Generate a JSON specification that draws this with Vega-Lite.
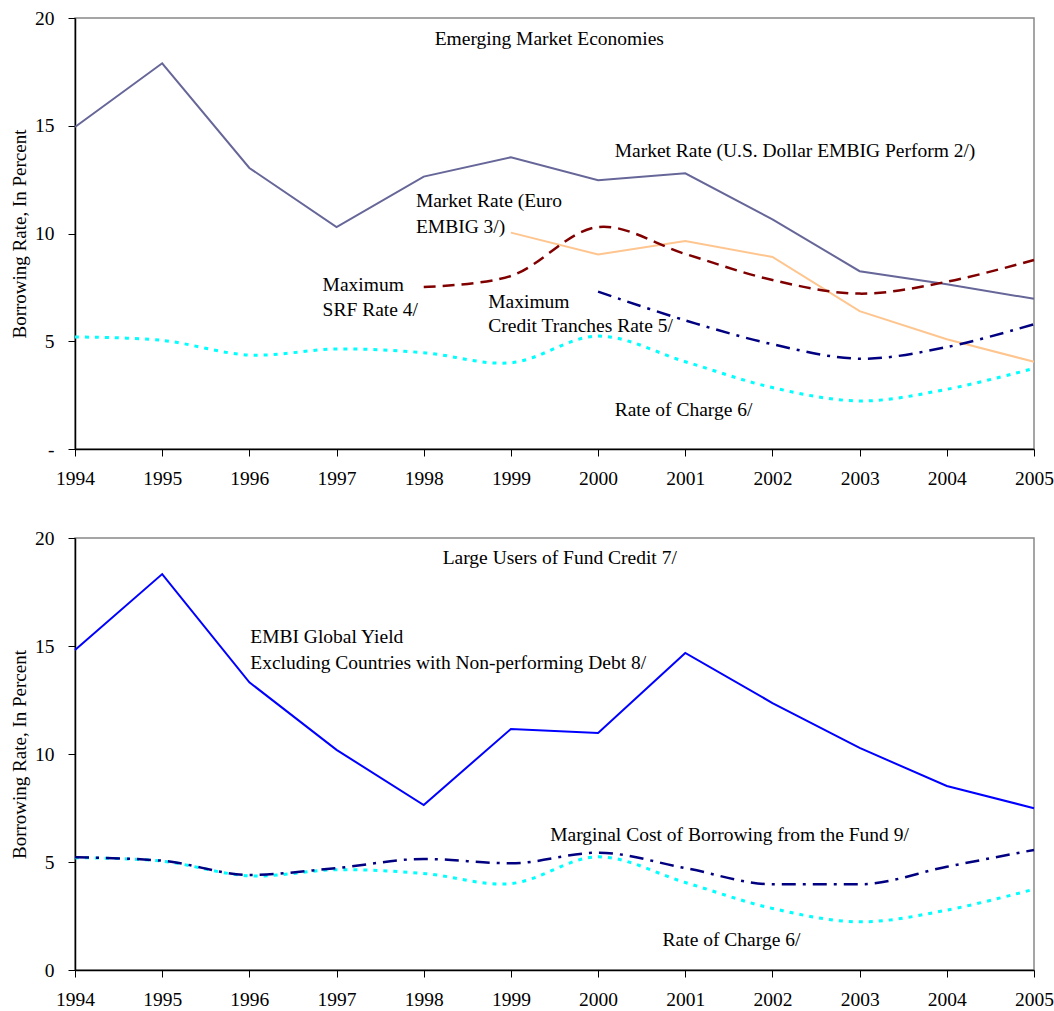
{
  "$schema": "https://vega.github.io/schema/vega-lite/v6.json",
  "padding": {"left": 9, "top": 7, "right": 0, "bottom": 2},
  "background": "white",
  "config": {
    "font": "Liberation Serif",
    "view": {"stroke": "#888888", "strokeWidth": 1.5},
    "axis": {"grid": false, "domainColor": "black", "domainWidth": 1.5, "tickColor": "black", "tickSize": 7, "labelFont": "Liberation Serif", "labelFontSize": 19.5, "labelColor": "black", "titleFont": "Liberation Serif", "titleFontSize": 19, "titleFontWeight": "normal", "titleColor": "black"},
    "text": {"font": "Liberation Serif", "fontSize": 19.5, "color": "black"}
  },
  "spacing": 38,
  "datasets": {
    "top": [
      {"series": "usd", "year": 1994, "value": 14.94}, {"series": "usd", "year": 1995, "value": 17.9}, {"series": "usd", "year": 1996, "value": 13.04}, {"series": "usd", "year": 1997, "value": 10.3}, {"series": "usd", "year": 1998, "value": 12.64}, {"series": "usd", "year": 1999, "value": 13.54}, {"series": "usd", "year": 2000, "value": 12.47}, {"series": "usd", "year": 2001, "value": 12.79}, {"series": "usd", "year": 2002, "value": 10.66}, {"series": "usd", "year": 2003, "value": 8.25}, {"series": "usd", "year": 2004, "value": 7.64}, {"series": "usd", "year": 2005, "value": 6.97},
      {"series": "euro", "year": 1999, "value": 10.04}, {"series": "euro", "year": 2000, "value": 9.03}, {"series": "euro", "year": 2001, "value": 9.65}, {"series": "euro", "year": 2002, "value": 8.91}, {"series": "euro", "year": 2003, "value": 6.4}, {"series": "euro", "year": 2004, "value": 5.09}, {"series": "euro", "year": 2005, "value": 4.05},
      {"series": "srf", "year": 1998, "value": 7.52}, {"series": "srf", "year": 1999, "value": 8.03}, {"series": "srf", "year": 2000, "value": 10.3}, {"series": "srf", "year": 2001, "value": 9.05}, {"series": "srf", "year": 2002, "value": 7.84}, {"series": "srf", "year": 2003, "value": 7.21}, {"series": "srf", "year": 2004, "value": 7.76}, {"series": "srf", "year": 2005, "value": 8.77},
      {"series": "ct", "year": 2000, "value": 7.3}, {"series": "ct", "year": 2001, "value": 5.97}, {"series": "ct", "year": 2002, "value": 4.86}, {"series": "ct", "year": 2003, "value": 4.19}, {"series": "ct", "year": 2004, "value": 4.73}, {"series": "ct", "year": 2005, "value": 5.79},
      {"series": "charge", "year": 1994, "value": 5.2}, {"series": "charge", "year": 1995, "value": 5.04}, {"series": "charge", "year": 1996, "value": 4.36}, {"series": "charge", "year": 1997, "value": 4.64}, {"series": "charge", "year": 1998, "value": 4.47}, {"series": "charge", "year": 1999, "value": 4.0}, {"series": "charge", "year": 2000, "value": 5.24}, {"series": "charge", "year": 2001, "value": 4.05}, {"series": "charge", "year": 2002, "value": 2.85}, {"series": "charge", "year": 2003, "value": 2.23}, {"series": "charge", "year": 2004, "value": 2.77}, {"series": "charge", "year": 2005, "value": 3.74}
    ],
    "bottom": [
      {"series": "embi", "year": 1994, "value": 14.81}, {"series": "embi", "year": 1995, "value": 18.33}, {"series": "embi", "year": 1996, "value": 13.32}, {"series": "embi", "year": 1997, "value": 10.19}, {"series": "embi", "year": 1998, "value": 7.64}, {"series": "embi", "year": 1999, "value": 11.16}, {"series": "embi", "year": 2000, "value": 10.97}, {"series": "embi", "year": 2001, "value": 14.68}, {"series": "embi", "year": 2002, "value": 12.36}, {"series": "embi", "year": 2003, "value": 10.28}, {"series": "embi", "year": 2004, "value": 8.52}, {"series": "embi", "year": 2005, "value": 7.49},
      {"series": "marginal", "year": 1994, "value": 5.22}, {"series": "marginal", "year": 1995, "value": 5.06}, {"series": "marginal", "year": 1996, "value": 4.4}, {"series": "marginal", "year": 1997, "value": 4.72}, {"series": "marginal", "year": 1998, "value": 5.14}, {"series": "marginal", "year": 1999, "value": 4.94}, {"series": "marginal", "year": 2000, "value": 5.43}, {"series": "marginal", "year": 2001, "value": 4.72}, {"series": "marginal", "year": 2002, "value": 3.97}, {"series": "marginal", "year": 2003, "value": 3.97}, {"series": "marginal", "year": 2004, "value": 4.78}, {"series": "marginal", "year": 2005, "value": 5.56},
      {"series": "charge", "year": 1994, "value": 5.2}, {"series": "charge", "year": 1995, "value": 5.04}, {"series": "charge", "year": 1996, "value": 4.36}, {"series": "charge", "year": 1997, "value": 4.64}, {"series": "charge", "year": 1998, "value": 4.47}, {"series": "charge", "year": 1999, "value": 4.0}, {"series": "charge", "year": 2000, "value": 5.24}, {"series": "charge", "year": 2001, "value": 4.05}, {"series": "charge", "year": 2002, "value": 2.85}, {"series": "charge", "year": 2003, "value": 2.23}, {"series": "charge", "year": 2004, "value": 2.77}, {"series": "charge", "year": 2005, "value": 3.74}
    ],
    "topLabels": [
      {"label": "Emerging Market Economies", "year": 1999.44, "value": 19.03, "anchor": "center"},
      {"label": "Market Rate (U.S. Dollar EMBIG Perform 2/)", "year": 2000.19, "value": 13.83, "anchor": "left"},
      {"label": "Market Rate (Euro", "year": 1997.91, "value": 11.5, "anchor": "left"},
      {"label": "EMBIG 3/)", "year": 1997.91, "value": 10.3, "anchor": "left"},
      {"label": "Maximum", "year": 1996.84, "value": 7.6, "anchor": "left"},
      {"label": "SRF Rate 4/", "year": 1996.84, "value": 6.45, "anchor": "left"},
      {"label": "Maximum", "year": 1998.74, "value": 6.82, "anchor": "left"},
      {"label": "Credit Tranches Rate 5/", "year": 1998.74, "value": 5.71, "anchor": "left"},
      {"label": "Rate of Charge 6/", "year": 2000.19, "value": 1.81, "anchor": "left"}
    ],
    "bottomLabels": [
      {"label": "Large Users of Fund Credit 7/", "year": 1999.56, "value": 19.07, "anchor": "center"},
      {"label": "EMBI Global Yield", "year": 1996.01, "value": 15.42, "anchor": "left"},
      {"label": "Excluding Countries with Non-performing Debt 8/", "year": 1996.01, "value": 14.21, "anchor": "left"},
      {"label": "Marginal Cost of Borrowing from the Fund 9/", "year": 1999.45, "value": 6.25, "anchor": "left"},
      {"label": "Rate of Charge 6/", "year": 2000.74, "value": 1.39, "anchor": "left"}
    ]
  },
  "vconcat": [
    {
      "width": 959,
      "height": 431,
      "data": {"name": "top"},
      "encoding": {
        "x": {"field": "year", "type": "quantitative", "scale": {"domain": [1994, 2005], "nice": false, "zero": false}, "axis": {"values": [1994, 1995, 1996, 1997, 1998, 1999, 2000, 2001, 2002, 2003, 2004, 2005], "format": "d", "title": null, "labelPadding": 13, "labelFlush": false, "labelOverlap": false}},
        "y": {"field": "value", "type": "quantitative", "scale": {"domain": [0, 20], "nice": false}, "axis": {"values": [0, 5, 10, 15, 20], "title": "Borrowing Rate, In Percent", "labelExpr": "datum.value == 0 ? '-' : datum.label", "titlePadding": 5, "labelPadding": 14}}
      },
      "layer": [
        {"transform": [{"filter": "datum.series == 'usd'"}], "mark": {"type": "line", "color": "#666699", "strokeWidth": 2}},
        {"transform": [{"filter": "datum.series == 'euro'"}], "mark": {"type": "line", "color": "#ffc58f", "strokeWidth": 2}},
        {"transform": [{"filter": "datum.series == 'srf'"}], "mark": {"type": "line", "color": "#800000", "strokeWidth": 2.5, "strokeDash": [12, 7], "interpolate": "catmull-rom"}},
        {"transform": [{"filter": "datum.series == 'ct'"}], "mark": {"type": "line", "color": "#000080", "strokeWidth": 2.5, "strokeDash": [14, 7, 3, 7], "interpolate": "catmull-rom"}},
        {"transform": [{"filter": "datum.series == 'charge'"}], "mark": {"type": "line", "color": "#00ffff", "strokeWidth": 3, "strokeDash": [4, 6], "interpolate": "catmull-rom"}},
        {"data": {"name": "topLabels"}, "transform": [{"filter": "datum.anchor == 'left'"}], "mark": {"type": "text", "baseline": "middle", "align": "left"}, "encoding": {"text": {"field": "label"}}},
        {"data": {"name": "topLabels"}, "transform": [{"filter": "datum.anchor == 'center'"}], "mark": {"type": "text", "baseline": "middle", "align": "center"}, "encoding": {"text": {"field": "label"}}}
      ]
    },
    {
      "width": 959,
      "height": 432,
      "data": {"name": "bottom"},
      "encoding": {
        "x": {"field": "year", "type": "quantitative", "scale": {"domain": [1994, 2005], "nice": false, "zero": false}, "axis": {"values": [1994, 1995, 1996, 1997, 1998, 1999, 2000, 2001, 2002, 2003, 2004, 2005], "format": "d", "title": null, "labelPadding": 13, "labelFlush": false, "labelOverlap": false}},
        "y": {"field": "value", "type": "quantitative", "scale": {"domain": [0, 20], "nice": false}, "axis": {"values": [0, 5, 10, 15, 20], "title": "Borrowing Rate, In Percent", "titlePadding": 5, "labelPadding": 14}}
      },
      "layer": [
        {"transform": [{"filter": "datum.series == 'embi'"}], "mark": {"type": "line", "color": "#0000ff", "strokeWidth": 2}},
        {"transform": [{"filter": "datum.series == 'charge'"}], "mark": {"type": "line", "color": "#00ffff", "strokeWidth": 3, "strokeDash": [4, 6], "interpolate": "catmull-rom"}},
        {"transform": [{"filter": "datum.series == 'marginal'"}], "mark": {"type": "line", "color": "#000080", "strokeWidth": 2.5, "strokeDash": [14, 7, 3, 7], "interpolate": "monotone"}},
        {"data": {"name": "bottomLabels"}, "transform": [{"filter": "datum.anchor == 'left'"}], "mark": {"type": "text", "baseline": "middle", "align": "left"}, "encoding": {"text": {"field": "label"}}},
        {"data": {"name": "bottomLabels"}, "transform": [{"filter": "datum.anchor == 'center'"}], "mark": {"type": "text", "baseline": "middle", "align": "center"}, "encoding": {"text": {"field": "label"}}}
      ]
    }
  ]
}
